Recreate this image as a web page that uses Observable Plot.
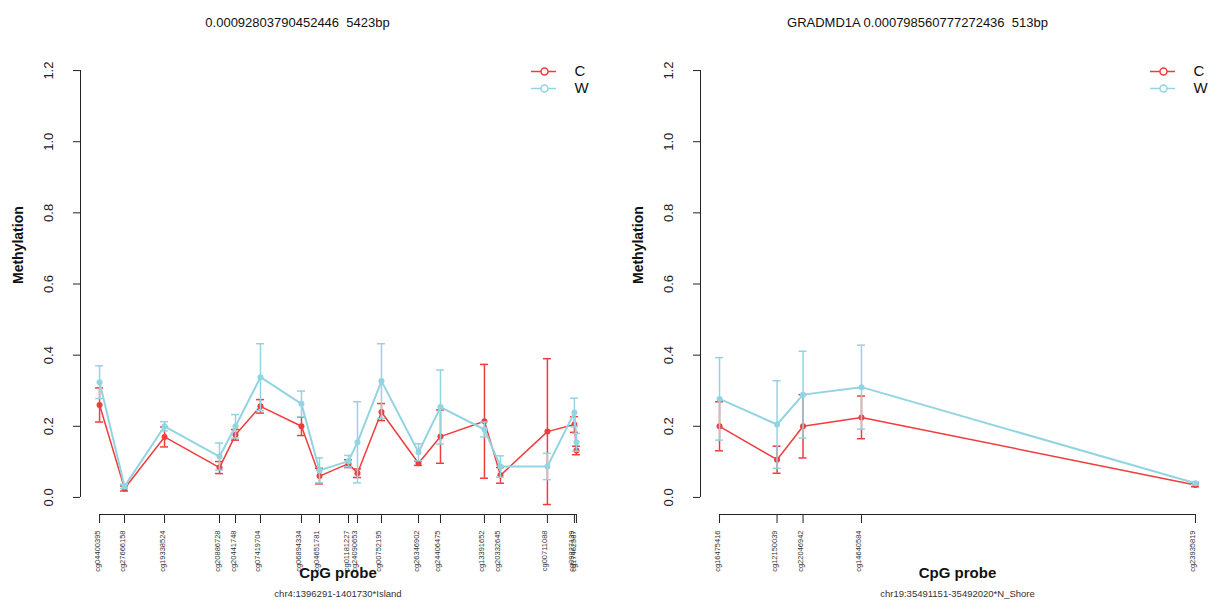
<!DOCTYPE html>
<html><head><meta charset="utf-8">
<script src="https://cdn.jsdelivr.net/npm/d3@7"></script>
<script src="https://cdn.jsdelivr.net/npm/@observablehq/plot@0.6"></script>
<style>
body{margin:0;background:#fff;}
#wrap{display:flex;width:1214px;height:606px;overflow:hidden;}
svg{font-family:"Liberation Sans",Arial,Helvetica,sans-serif;background:#fff;}
</style></head><body><div id="wrap"></div>
<script>
// ---------- Left panel data ----------
const leftTitle = "0.00092803790452446  5423bp";
const leftCaption = "chr4:1396291-1401730*Island";
const leftProbes = ["cg04400395","cg27666158","cg19338524","cg20886728","cg20441748","cg07419704","cg06894334","cg04651781","cg01181227","cg24090653","cg00752195","cg26346902","cg24406475","cg13391652","cg20332645","cg00711088","cg09827139","cg17462587"];
const leftPos = [1396300,1396584,1397039,1397664,1397846,1398130,1398596,1398801,1399131,1399233,1399506,1399927,1400177,1400677,1400859,1401393,1401700,1401723];
const leftC   = [0.260,0.025,0.170,0.084,0.176,0.256,0.200,0.060,0.095,0.068,0.240,0.096,0.171,0.214,0.062,0.185,0.205,0.132];
const leftCsd = [0.048,0.007,0.028,0.017,0.015,0.019,0.026,0.022,0.011,0.012,0.024,0.006,0.075,0.160,0.022,0.205,0.022,0.012];
const leftW   = [0.324,0.031,0.200,0.115,0.200,0.338,0.263,0.076,0.102,0.155,0.327,0.127,0.254,0.191,0.087,0.087,0.239,0.155];
const leftWsd = [0.046,0.006,0.013,0.038,0.033,0.094,0.036,0.035,0.016,0.114,0.105,0.024,0.104,0.021,0.030,0.037,0.040,0.025];

// ---------- Right panel data ----------
const rightTitle = "GRADMD1A 0.000798560777272436  513bp";
const rightCaption = "chr19:35491151-35492020*N_Shore";
const rightProbes = ["cg16475416","cg12150039","cg22046942","cg14640584","cg23935819"];
const rightPos = [35491400,35491462,35491490,35491553,35491913];
const rightC   = [0.200,0.106,0.200,0.225,0.035];
const rightCsd = [0.069,0.038,0.089,0.060,0.005];
const rightW   = [0.277,0.205,0.289,0.310,0.040];
const rightWsd = [0.116,0.123,0.122,0.118,0.004];

const yTicks = [0, 0.2, 0.4, 0.6, 0.8, 1.0, 1.2];
const seriesNames = ["C", "W"];
const seriesColors = ["#f03c3c", "#93d4e2"];
const xLabel = "CpG probe";
const yLabel = "Methylation";

function panel(cfg) {
  const {width, mL, mR, probes, pos, means, sds, title, caption} = cfg;
  const mT = 53, mB = 92, H = 606;
  const xmin = d3.min(pos), xmax = d3.max(pos), pad = (xmax - xmin) * 0.04;
  const xd = [xmin - pad, xmax + pad];
  const yd = [-0.048, 1.248];
  const axisColor = "#222";
  const marks = [];
  // y axis
  marks.push(Plot.ruleX([0], {x: () => xd[0], y1: () => yTicks[0], y2: () => yTicks[yTicks.length - 1], stroke: axisColor}));
  marks.push(Plot.ruleY(yTicks, {y: d => d, x1: () => xd[0], x2: () => xd[0], insetLeft: -7, insetRight: 0, stroke: axisColor}));
  marks.push(Plot.text(yTicks, {y: d => d, frameAnchor: "left", dx: -32, rotate: -90, text: d => d.toFixed(1), textAnchor: "middle", fontSize: 13, fill: "#222"}));
  marks.push(Plot.text([yLabel], {frameAnchor: "left", dx: -62, rotate: -90, text: d => d, fontWeight: "bold", fontSize: 14, fill: "#111"}));
  // x axis
  marks.push(Plot.ruleY([0], {y: () => yd[0], x1: () => xmin, x2: () => xmax, stroke: axisColor}));
  marks.push(Plot.ruleX(pos, {x: d => d, y1: () => yd[0], y2: () => yd[0], insetTop: 0, insetBottom: -9, stroke: axisColor}));
  marks.push(Plot.text(probes.map((p, i) => i), {x: i => pos[i], text: i => probes[i], frameAnchor: "bottom", rotate: -90, textAnchor: "end", dy: 16, fontSize: 7.5, fill: "#333"}));
  marks.push(Plot.text([xLabel], {frameAnchor: "bottom", dy: 63, text: d => d, fontWeight: "bold", fontSize: 15, fill: "#111"}));
  marks.push(Plot.text([caption], {frameAnchor: "bottom", dy: 82, text: d => d, fontSize: 9.5, fill: "#333"}));
  marks.push(Plot.text([title], {frameAnchor: "top-left", dx: 217, dy: -36, text: d => d, fontSize: 13, textAnchor: "middle", fill: "#111"}));
  // series
  seriesNames.forEach((s, k) => {
    const rows = pos.map((p, i) => ({x: p, y: means[k][i], lo: means[k][i] - sds[k][i], hi: means[k][i] + sds[k][i]}));
    const col = seriesColors[k];
    const sw = k === 0 ? 1.5 : 2;
    marks.push(Plot.ruleX(rows, {x: "x", y1: "lo", y2: "hi", stroke: col, strokeWidth: 1.5}));
    marks.push(Plot.ruleY(rows, {y: "hi", x1: "x", x2: "x", insetLeft: -4, insetRight: -4, stroke: col, strokeWidth: 1.5}));
    marks.push(Plot.ruleY(rows, {y: "lo", x1: "x", x2: "x", insetLeft: -4, insetRight: -4, stroke: col, strokeWidth: 1.5}));
    marks.push(Plot.line(rows, {x: "x", y: "y", stroke: col, strokeWidth: sw}));
    marks.push(Plot.dot(rows, {x: "x", y: "y", r: 3, fill: col}));
    // legend
    const dy = 18 + 17 * k;
    marks.push(Plot.ruleY([0], {y: () => yd[1], x1: () => xd[1], x2: () => xd[1], insetLeft: -64, insetRight: 39, dy, stroke: col, strokeWidth: 1.5}));
    marks.push(Plot.dot([0], {x: () => xd[1], y: () => yd[1], dx: -51, dy, r: 3.5, fill: "white", stroke: col, strokeWidth: 1.5}));
    marks.push(Plot.text([s], {x: () => xd[1], y: () => yd[1], dx: -21, dy, text: d => d, textAnchor: "start", fontSize: 15, fill: "#111"}));
  });
  return Plot.plot({
    width, height: H, marginLeft: mL, marginRight: mR, marginTop: mT, marginBottom: mB,
    x: {domain: xd, axis: null},
    y: {domain: yd, axis: null},
    style: {background: "#fff", overflow: "visible"},
    marks
  });
}

const wrap = document.getElementById("wrap");
wrap.appendChild(panel({width: 607, mL: 80, mR: 12, probes: leftProbes, pos: leftPos, means: [leftC, leftW], sds: [leftCsd, leftWsd], title: leftTitle, caption: leftCaption}));
wrap.appendChild(panel({width: 607, mL: 93, mR: 0, probes: rightProbes, pos: rightPos, means: [rightC, rightW], sds: [rightCsd, rightWsd], title: rightTitle, caption: rightCaption}));
</script></body></html>
